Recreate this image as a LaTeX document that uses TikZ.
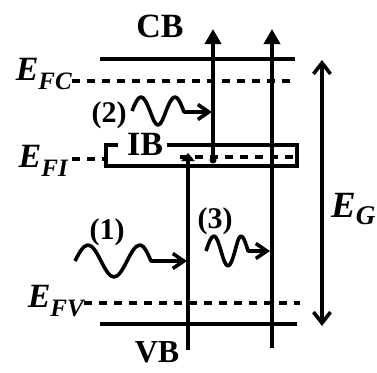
\documentclass[tikz,border=0pt]{standalone}
\usepackage{fontspec}
\setmainfont{Liberation Serif}
\usepackage{tikz}
\usetikzlibrary{arrows.meta,positioning,calc}
\definecolor{inkBlack}{RGB}{0, 0, 0}
\newcommand{\lvlE}[1]{{\fontsize{34pt}{34pt}\selectfont\bfseries\itshape E\raisebox{-9pt}{\fontsize{25pt}{25pt}\selectfont #1}}}
\tikzset{
  band/.style={line width=3.6pt, draw=inkBlack},
  fermi/.style={line width=3.6pt, draw=inkBlack, dash pattern=on 8pt off 7pt},
  jump/.style={line width=3.6pt, draw=inkBlack, -{Triangle[length=15pt,width=16pt]}},
  photon/.style={line width=3.6pt, draw=inkBlack, line join=round, -{Straight Barb[length=11pt,width=15pt,line width=3.6pt]}},
  gap/.style={line width=3.6pt, draw=inkBlack, {Straight Barb[length=11pt,width=17pt,line width=3.6pt]}-{Straight Barb[length=11pt,width=17pt,line width=3.6pt]}},
  bandlbl/.style={font=\fontsize{34pt}{34pt}\selectfont\bfseries, inner sep=0pt, text=inkBlack},
  numlbl/.style={font=\fontsize{30pt}{30pt}\selectfont\bfseries, inner sep=0pt, text=inkBlack},
  lvllbl/.style={inner sep=0pt, anchor=base east, text=inkBlack}
}

\begin{document}
\begin{tikzpicture}[x=1pt, y=-1pt]
  \useasboundingbox (0,0) rectangle (377,372);
  % levels
  \coordinate (cbL) at (100,59);  \coordinate (cbR) at (295,59);
  \coordinate (vbL) at (100,324); \coordinate (vbR) at (297,324);
  \draw[band] (cbL) -- (cbR);
  \draw[band] (vbL) -- (vbR);
  % intermediate band
  \draw[band] (118,145) -- (106,145) -- (106,166) -- (297,166) -- (297,145) -- (167,145);
  \node[bandlbl] (ib) at (145,144) {IB};
  \node[bandlbl] (cb) at (160,26) {CB};
  \node[bandlbl, font=\fontsize{32pt}{32pt}\selectfont\bfseries] (vb) at (157,352) {VB};
  % quasi-Fermi levels
  \node[lvllbl] (efc) at (72,80) {\lvlE{FC}};
  \node[lvllbl] (efi) at (68,167) {\lvlE{FI}};
  \node[lvllbl] (efv) at (84,307) {\lvlE{FV}};
  \draw[fermi] (efc.east |- 0,81) -- (293,81);
  \draw[fermi] (72,159) -- (106,159);
  \draw[fermi] (180,157) -- (297,157);
  \draw[fermi] (efv.east |- 0,303) -- (300,303);
  % transitions
  \coordinate (vb1) at (188,350); \coordinate (ib1) at (188,153);
  \coordinate (ib2) at (213,160); \coordinate (cb2) at (213,29);
  \coordinate (vb3) at (272,348); \coordinate (cb3) at (272,29);
  \draw[line width=3.6pt, -{Triangle[length=8pt,width=13pt]}] (vb1) -- (ib1);
  \fill (ib2) circle (3.5pt);
  \draw[jump] (ib2) -- (cb2);
  \draw[jump] (vb3) -- (cb3);
  % photons
  \draw[photon] (75,261) sin (88,245) cos (101,261) sin (114,277) cos (127,261) sin (140,245) cos (151,261) -- (187,261);
  \draw[photon] (132,111) sin (141,97) cos (150,111) sin (158,125) cos (166,111) sin (175,97) cos (184,112) -- (212,112);
  \draw[photon] (206,251) sin (214,236) cos (221,251) sin (228,266) cos (235,251) sin (241,236) cos (248,251) -- (270,251);
  \node[numlbl] (n1) at (107,232) {(1)};
  \node[numlbl] (n2) at (109,115) {(2)};
  \node[numlbl] (n3) at (215,221) {(3)};
  % gap energy
  \coordinate (gT) at (322,60); \coordinate (gB) at (322,326);
  \draw[gap] (gT) -- (gB);
  \node[inner sep=0pt, anchor=base west] (eg) at (331,217) {{\fontsize{37pt}{37pt}\selectfont\bfseries\itshape E\raisebox{-7pt}{\fontsize{27pt}{27pt}\selectfont G}}};
\end{tikzpicture}
\end{document}
